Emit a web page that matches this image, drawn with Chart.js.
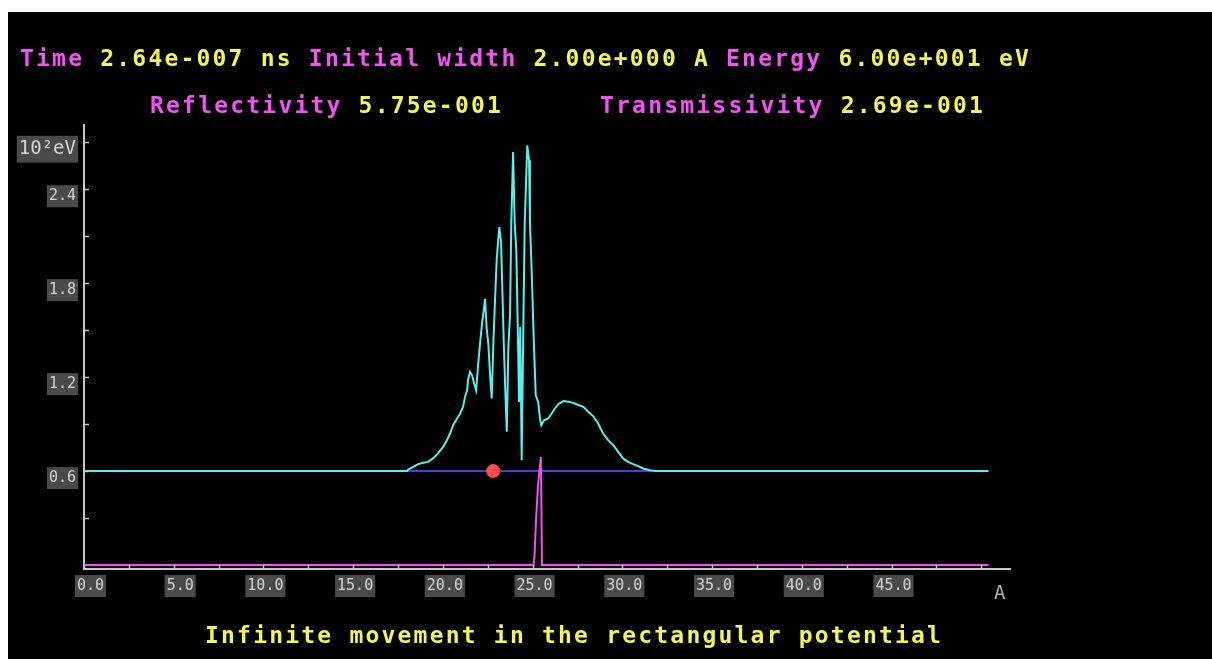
<!DOCTYPE html>
<html>
<head>
<meta charset="utf-8">
<script src="https://cdn.jsdelivr.net/npm/chart.js@4.4.1/dist/chart.umd.min.js"></script>
<style>
    body{ margin:0; background:#fff; }
    #frame{ position:absolute; left:8px; top:12px; width:1204px; height:647px; background:#000; }
</style>
</head>
<body>
<div id="frame"><canvas id="chart" width="1204" height="647"></canvas></div>
<script>

// Paquete de ondas (energia + densidad), en 10^2 eV
const waveX = [0, 18.01, 18.06, 18.34, 18.62, 18.90, 19.18, 19.45, 19.73, 20.01, 20.23, 20.40, 20.57, 20.79, 20.96,
    21.12, 21.23, 21.35, 21.40, 21.51, 21.62, 21.74, 21.85, 21.96, 22.07, 22.18, 22.35, 22.44, 22.53, 22.63,
    22.72, 22.81, 22.90, 23.00, 23.14, 23.24, 23.31, 23.39, 23.48, 23.56, 23.65, 23.74, 23.81, 23.91, 24.00,
    24.09, 24.17, 24.24, 24.31, 24.39, 24.48, 24.56, 24.70, 24.80, 24.85, 24.96, 25.06, 25.17, 25.31, 25.41,
    25.48, 25.63, 25.87, 26.06, 26.24, 26.43, 26.71, 27.08, 27.45, 27.82, 28.10, 28.38, 28.65, 28.93, 29.21,
    29.49, 29.77, 30.04, 30.32, 30.60, 30.88, 31.16, 31.53, 31.86, 50.4];
const waveY = [0.60, 0.60, 0.61, 0.627, 0.645, 0.653, 0.659, 0.681, 0.713, 0.755, 0.798, 0.840, 0.893, 0.936, 0.968,
    1.010, 1.074, 1.117, 1.181, 1.234, 1.213, 1.160, 1.117, 1.276, 1.415, 1.542, 1.700, 1.510, 1.415, 1.213,
    1.064, 1.415, 1.681, 1.957, 2.159, 2.063, 1.766, 1.425, 1.106, 0.851, 1.404, 1.595, 2.181, 2.638, 2.181,
    2.010, 1.521, 1.042, 1.521, 0.670, 1.510, 2.192, 2.680, 2.585, 2.192, 1.830, 1.447, 1.085, 1.042, 0.936,
    0.893, 0.925, 0.936, 0.968, 1.000, 1.027, 1.047, 1.042, 1.027, 1.010, 0.979, 0.950, 0.904, 0.840, 0.798,
    0.766, 0.723, 0.681, 0.659, 0.645, 0.632, 0.617, 0.606, 0.600, 0.600];

// Potencial rectangular
const potentialX = [0, 25.05, 25.10, 25.19, 25.30, 25.46, 25.52, 50.4];
const potentialY = [0, 0, 0.05, 0.29, 0.51, 0.69, 0, 0];

// Nivel de energia y posicion de la particula
const energyX = [0, 50.4];
const energyY = [0.6, 0.6];
const particleX = [22.8];
const particleY = [0.6];

// Marcas de los ejes
const xTickValues = [0, 2.5, 5, 7.5, 10, 12.5, 15, 17.5, 20, 22.5, 25, 27.5, 30, 32.5, 35, 37.5, 40, 42.5, 45, 47.5, 50];
const xTickLabels = ['0.0', '', '5.0', '', '10.0', '', '15.0', '', '20.0', '', '25.0', '', '30.0', '', '35.0', '', '40.0', '', '45.0', '', ''];
const yTickValues = [0.3, 0.6, 0.9, 1.2, 1.5, 1.8, 2.1, 2.4, 2.7];
const yTickLabels = ['', '0.6', '', '1.2', '', '1.8', '', '2.4', '10²eV'];

const MAGENTA = '#f552f5';
const AMARILLO = '#f5f552';

const header1 = [
    ['Time ', MAGENTA], ['2.64e-007 ns ', AMARILLO], ['Initial width ', MAGENTA],
    ['2.00e+000 A ', AMARILLO], ['Energy ', MAGENTA], ['6.00e+001 eV', AMARILLO]
];
const header2a = [['Reflectivity ', MAGENTA], ['5.75e-001', AMARILLO]];
const header2b = [['Transmissivity ', MAGENTA], ['2.69e-001', AMARILLO]];
const footer = [['Infinite movement in the rectangular potential', AMARILLO]];

function puntos(xs, ys){
    return xs.map((x, i) => ({x: x, y: ys[i]}));
}

function escribir(ctx, partes, x, y){
    partes.forEach(p => {
        ctx.fillStyle = p[1];
        ctx.fillText(p[0], x, y);
        x += ctx.measureText(p[0]).width;
    });
}

// Textos de cabecera, pie y unidad del eje x
const textos = {
    id: 'textos',
    afterDraw(chart){
        const ctx = chart.ctx;
        ctx.save();
        ctx.font = 'bold 23px "DejaVu Sans Mono"';
        ctx.letterSpacing = '2.2px';
        ctx.textBaseline = 'middle';
        ctx.textAlign = 'left';
        escribir(ctx, header1, 12, 48);
        escribir(ctx, header2a, 142, 95);
        escribir(ctx, header2b, 592, 95);
        escribir(ctx, footer, 197, 625);

        ctx.letterSpacing = '0px';
        ctx.font = '19px "DejaVu Sans Mono"';
        ctx.fillStyle = '#b4b4b4';
        ctx.fillText('A', 986, 582);
        ctx.restore();
    }
};

// Marcas cortas hacia dentro del area
const marcas = {
    id: 'marcas',
    afterDatasetsDraw(chart){
        const ctx = chart.ctx;
        const sx = chart.scales.x, sy = chart.scales.y;
        const a = chart.chartArea;
        ctx.save();
        ctx.strokeStyle = '#c8c8c8';
        ctx.lineWidth = 1.5;
        ctx.beginPath();
        sx.ticks.forEach(t => {
            const px = Math.round(sx.getPixelForValue(t.value)) + 0.5;
            ctx.moveTo(px, a.bottom);
            ctx.lineTo(px, a.bottom - 4);
        });
        sy.ticks.forEach(t => {
            const py = Math.round(sy.getPixelForValue(t.value)) + 0.5;
            ctx.moveTo(a.left, py);
            ctx.lineTo(a.left + 5, py);
        });
        ctx.stroke();
        ctx.restore();
    }
};

const fondoTick = c => (c.tick && c.tick.label) ? '#4a4a4a' : 'rgba(0,0,0,0)';

new Chart(document.getElementById('chart'), {
    type: 'line',
    data: {
        datasets: [
            {
                data: puntos(particleX, particleY),
                showLine: false,
                pointRadius: 7,
                pointBackgroundColor: '#ff4a4a',
                pointBorderWidth: 0
            },
            {
                data: puntos(waveX, waveY),
                borderColor: '#55f0f0',
                borderWidth: 2,
                pointRadius: 0,
                tension: 0
            },
            {
                data: puntos(potentialX, potentialY),
                borderColor: '#f050f0',
                borderWidth: 2,
                pointRadius: 0,
                tension: 0
            },
            {
                data: puntos(energyX, energyY),
                borderColor: '#4a40d0',
                borderWidth: 2,
                pointRadius: 0,
                tension: 0
            }
        ]
    },
    options: {
        responsive: false,
        animation: false,
        devicePixelRatio: 1,
        layout: {
            padding: {left: 6, right: 202, top: 113, bottom: 40}
        },
        plugins: {
            legend: {display: false},
            tooltip: {enabled: false}
        },
        scales: {
            x: {
                type: 'linear',
                min: 0,
                max: 51.6,
                afterBuildTicks: s => { s.ticks = xTickValues.map(v => ({value: v})); },
                afterFit: s => { s.height = 50; },
                grid: {drawOnChartArea: false, drawTicks: false},
                border: {color: '#c8c8c8', width: 2},
                ticks: {
                    autoSkip: false,
                    maxRotation: 0,
                    align: 'end',
                    labelOffset: 20,
                    padding: 8,
                    color: '#d4d4d4',
                    font: {family: '"DejaVu Sans Mono"', size: 15},
                    showLabelBackdrop: true,
                    backdropColor: fondoTick,
                    backdropPadding: 2,
                    callback: (v, i) => xTickLabels[i]
                }
            },
            y: {
                min: -0.025,
                max: 2.81,
                afterBuildTicks: s => { s.ticks = yTickValues.map(v => ({value: v})); },
                afterFit: s => { s.width = 70; },
                grid: {drawOnChartArea: false, drawTicks: false},
                border: {color: '#c8c8c8', width: 2},
                ticks: {
                    labelOffset: 7,
                    padding: 8,
                    color: '#d4d4d4',
                    font: c => ({family: '"DejaVu Sans Mono"', size: c.index === yTickValues.length - 1 ? 19 : 15}),
                    showLabelBackdrop: true,
                    backdropColor: fondoTick,
                    backdropPadding: 2,
                    callback: (v, i) => yTickLabels[i]
                }
            }
        }
    },
    plugins: [textos, marcas]
});

</script>
</body>
</html>
